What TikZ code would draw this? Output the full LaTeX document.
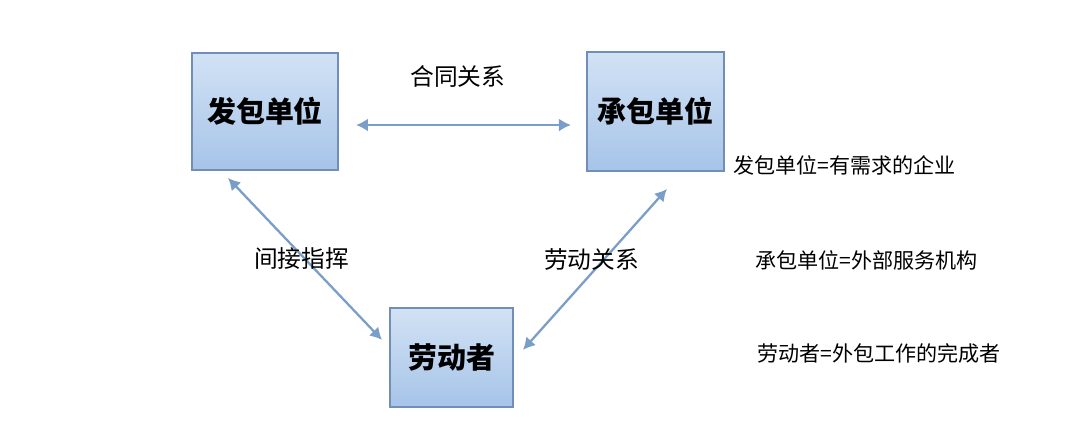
\documentclass[tikz,border=0pt]{standalone}
\usepackage{fontspec}
\setmainfont{Noto Sans CJK SC}
\usetikzlibrary{arrows.meta,positioning}
\definecolor{boxtop}{RGB}{210,226,245}
\definecolor{boxbottom}{RGB}{166,196,232}
\definecolor{boxline}{RGB}{112,142,182}
\definecolor{arrowblue}{RGB}{122,158,200}

\begin{document}
\begin{tikzpicture}[
    unit/.style={draw=boxline, line width=1.1pt, top color=boxtop, bottom color=boxbottom, align=center, inner sep=0pt, font=\fontsize{16.5}{18}\selectfont\bfseries},
    party/.style={unit, minimum width=2.92cm, minimum height=2.34cm},
    worker/.style={unit, minimum width=2.46cm, minimum height=1.98cm},
    tag/.style={inner sep=0pt, font=\fontsize{13.5}{15}\selectfont},
    note/.style={anchor=west, inner sep=0pt, font=\fontsize{12}{14}\selectfont},
    arrow/.style={{Latex[length=2.4mm,width=2.6mm]}-{Latex[length=2.4mm,width=2.6mm]}, draw=arrowblue, line width=1.3pt}
  ]
    \useasboundingbox (0,0) rectangle (21.78,-8.62);
    \node[party] (client) at (5.30,-2.23) {发包单位};
    \node[party, minimum width=2.74cm, minimum height=2.38cm, right=4.94cm of client] (vendor) {承包单位};
    \node[worker, below=2.72cm of client, xshift=3.73cm] (worker) {劳动者};
    \node[note] (clientnote) at (14.66,-3.30) {发包单位=有需求的企业};
    \node[note] (vendornote) at (15.10,-5.20) {承包单位=外部服务机构};
    \node[note] (workernote) at (15.14,-7.06) {劳动者=外包工作的完成者};
    \draw[arrow] ([xshift=0.34cm,yshift=-0.27cm]client.east) -- ([xshift=-0.30cm,yshift=-0.27cm]vendor.west)
      node[tag, midway, above=0.73cm, xshift=-0.11cm] (contract) {合同关系};
    \draw[arrow] ([xshift=-0.74cm,yshift=-0.14cm]client.south) -- ([xshift=-0.14cm,yshift=0.35cm]worker.west)
      node[tag, midway, xshift=-0.07cm] (command) {间接指挥};
    \draw[arrow] ([xshift=0.18cm,yshift=0.15cm]worker.east) -- ([xshift=0.23cm,yshift=-0.34cm]vendor.south)
      node[tag, midway, xshift=-0.07cm, yshift=0.19cm] (labour) {劳动关系};
  \end{tikzpicture}
\end{document}
